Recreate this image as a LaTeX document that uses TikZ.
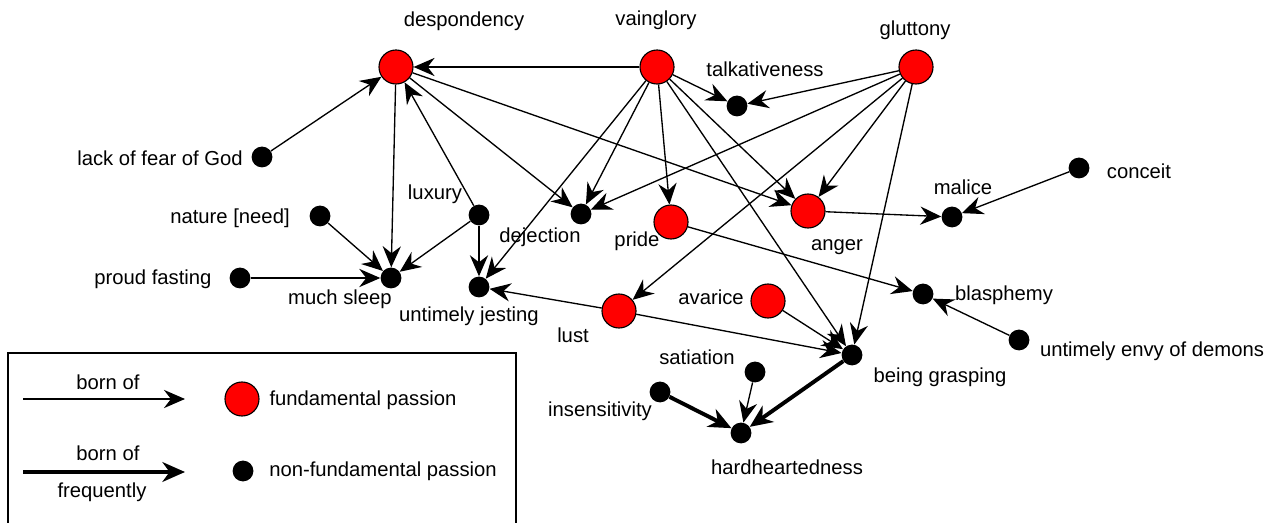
\documentclass[tikz,border=0pt]{standalone}
\usepackage{fontspec}
\setmainfont{Liberation Sans}
\usetikzlibrary{arrows.meta}

\begin{document}
\begin{tikzpicture}[x=0.025cm, y=-0.025cm,
    fund/.style={shape=circle, draw=black, fill=red, line width=0.8pt, minimum size=0.85cm, inner sep=0pt},
    nonfund/.style={shape=circle, fill=black, minimum size=0.52cm, inner sep=0pt},
    lbl/.style={font=\fontsize{14.4}{17}\selectfont, inner sep=0pt},
    born/.style={-{Stealth[length=15pt,width=13pt,inset=5pt]}, line width=0.95pt},
    often/.style={-{Stealth[length=16pt,width=14pt,inset=5pt]}, line width=2.8pt}]
    \useasboundingbox (0,0) rectangle (1275,523);

    % fundamental passions
    \node[fund] (despondency) at (396,67) {};
    \node[fund] (vainglory) at (657,67) {};
    \node[fund] (gluttony) at (916,67) {};
    \node[fund] (pride) at (671,222) {};
    \node[fund] (anger) at (808,211) {};
    \node[fund] (lust) at (619,311) {};
    \node[fund] (avarice) at (768,301) {};

    % other passions
    \node[nonfund] (talk) at (737,106) {};
    \node[nonfund] (nofear) at (262,157) {};
    \node[nonfund] (nature) at (320,216) {};
    \node[nonfund] (luxury) at (479,215) {};
    \node[nonfund] (dejection) at (581,214) {};
    \node[nonfund] (fasting) at (240,278) {};
    \node[nonfund] (sleep) at (391,278) {};
    \node[nonfund] (jesting) at (479,287) {};
    \node[nonfund] (malice) at (952,217) {};
    \node[nonfund] (conceit) at (1079,168) {};
    \node[nonfund] (blasphemy) at (923,294) {};
    \node[nonfund] (envy) at (1019,340) {};
    \node[nonfund] (grasping) at (852,355) {};
    \node[nonfund] (satiation) at (755,372) {};
    \node[nonfund] (insens) at (660,392) {};
    \node[nonfund] (hard) at (741,433) {};

    % labels
    \node[lbl] (despondencyT) at (464,21) {despondency};
    \node[lbl] (vaingloryT) at (656,20) {vainglory};
    \node[lbl] (gluttonyT) at (915,30) {gluttony};
    \node[lbl] (talkT) at (765,69) {talkativeness};
    \node[lbl] (nofearT) at (160,158) {lack of fear of God};
    \node[lbl] (natureT) at (230,218) {nature [need]};
    \node[lbl] (luxuryT) at (435,194) {luxury};
    \node[lbl] (fastingT) at (153,279) {proud fasting};
    \node[lbl] (sleepT) at (340,299) {much sleep};
    \node[lbl] (jestingT) at (469,316) {untimely jesting};
    \node[lbl] (dejectionT) at (540,237) {dejection};
    \node[lbl] (prideT) at (637,241) {pride};
    \node[lbl] (angerT) at (837,247) {anger};
    \node[lbl] (avariceT) at (711,297) {avarice};
    \node[lbl] (lustT) at (573,335) {lust};
    \node[lbl] (satiationT) at (697,357) {satiation};
    \node[lbl] (maliceT) at (963,187) {malice};
    \node[lbl] (conceitT) at (1139,171) {conceit};
    \node[lbl] (blasphemyT) at (1004,295) {blasphemy};
    \node[lbl] (envyT) at (1152,351) {untimely envy of demons};
    \node[lbl] (graspingT) at (940,377) {being grasping};
    \node[lbl] (insensT) at (600,411) {insensitivity};
    \node[lbl] (hardT) at (787,467) {hardheartedness};

    \path [born](vainglory) edge (despondency);
    \path [born](nofear) edge (despondency);
    \path [born](luxury) edge (despondency);
    \path [born](despondency) edge (sleep);
    \path [born](despondency) edge (dejection);
    \path [born](despondency) edge (anger);
    \path [born](vainglory) edge (talk);
    \path [born](vainglory) edge (jesting);
    \path [born](vainglory) edge (dejection);
    \path [born](vainglory) edge (pride);
    \path [born](vainglory) edge (anger);
    \path [born](vainglory) edge (grasping);
    \path [born](gluttony) edge (talk);
    \path [born](gluttony) edge (dejection);
    \path [born](gluttony) edge (lust);
    \path [born](gluttony) edge (anger);
    \path [born](gluttony) edge (grasping);
    \path [born](nature) edge (sleep);
    \path [born](luxury) edge (sleep);
    \path [born](fasting) edge (sleep);
    \path [born](luxury) edge (jesting);
    \path [born](lust) edge (jesting);
    \path [born](lust) edge (grasping);
    \path [born](avarice) edge (grasping);
    \path [born](pride) edge (blasphemy);
    \path [born](envy) edge (blasphemy);
    \path [born](anger) edge (malice);
    \path [born](conceit) edge (malice);
    \path [born](satiation) edge (hard);
    \path [often](insens) edge (hard);
    \path [often](grasping) edge (hard);

    % legend
    \draw[line width=0.8pt] (8,523) -- (8,353) -- (516,353) -- (516,523);
    \coordinate (thinA) at (23,399);
    \coordinate (thinB) at (185,399);
    \coordinate (thickA) at (23,472);
    \coordinate (thickB) at (185,472);
    \path [born](thinA) edge (thinB);
    \path [often](thickA) edge (thickB);
    \node[lbl] (bornT) at (108,382) {born of};
    \node[lbl] (oftenT) at (108,453) {born of};
    \node[lbl] (freqT) at (102,492) {frequently};
    \node[fund] (keyfund) at (242,399) {};
    \node[nonfund] (keynonfund) at (243,471) {};
    \node[lbl] (keyfundT) at (363,400) {fundamental passion};
    \node[lbl] (keynonfundT) at (383,471) {non-fundamental passion};

\end{tikzpicture}
\end{document}
